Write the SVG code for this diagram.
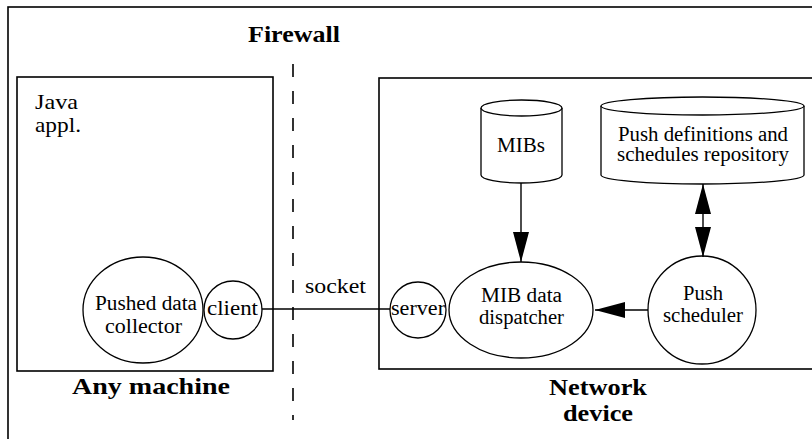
<svg xmlns="http://www.w3.org/2000/svg" width="812" height="439" viewBox="0 0 812 439">
<style>
.box{fill:none;stroke:#000;stroke-width:1.6}
.shape{fill:#fff;stroke:#000;stroke-width:1.3}
text{font-family:'Liberation Serif','Times New Roman',Times,serif;fill:#000}
.t{font-size:20px}
.l{font-size:22px}
.b{font-size:24px;font-weight:bold}
.m{text-anchor:middle}
.conn{stroke:#000;stroke-width:1.4;fill:none}
</style>
<defs>
<marker id="ah" viewBox="0 0 30 16" refX="30" refY="8" markerWidth="30" markerHeight="16" markerUnits="userSpaceOnUse" orient="auto-start-reverse">
<path d="M0,0 L30,8 L0,16 z" fill="#000"/>
</marker>
</defs>
<rect width="812" height="439" fill="#fff"/>
<g id="frame">
<rect class="box" x="8" y="7" width="830" height="460"/>
</g>
<g id="firewall">
<text class="b m" x="294" y="42" textLength="92" lengthAdjust="spacingAndGlyphs">Firewall</text>
<line x1="293" y1="64" x2="293" y2="420" stroke="#000" stroke-width="1.6" stroke-dasharray="13 14"/>
</g>
<g id="any-machine">
<rect class="box" x="17" y="77" width="256" height="294"/>
<text class="l" x="35" y="109" textLength="43" lengthAdjust="spacingAndGlyphs">Java</text>
<text class="l" x="35" y="132" textLength="46" lengthAdjust="spacingAndGlyphs">appl.</text>
<text class="b m" x="151" y="394" textLength="158" lengthAdjust="spacingAndGlyphs">Any machine</text>
</g>
<g id="collector">
<ellipse class="shape" cx="143" cy="310" rx="60" ry="53"/>
<text class="t m" x="146" y="310" textLength="102" lengthAdjust="spacingAndGlyphs">Pushed data</text>
<text class="t m" x="143.5" y="333" textLength="77" lengthAdjust="spacingAndGlyphs">collector</text>
</g>
<g id="client">
<circle class="shape" cx="233" cy="310" r="29"/>
<text class="t m" x="232.5" y="315" textLength="51" lengthAdjust="spacingAndGlyphs">client</text>
</g>
<g id="network-device">
<rect class="box" x="379" y="78" width="460" height="291"/>
<text class="b m" x="598" y="395" textLength="98" lengthAdjust="spacingAndGlyphs">Network</text>
<text class="b m" x="598" y="421" textLength="70" lengthAdjust="spacingAndGlyphs">device</text>
</g>
<g id="server">
<circle class="shape" cx="418" cy="310" r="28"/>
<text class="t m" x="418" y="315" textLength="54" lengthAdjust="spacingAndGlyphs">server</text>
</g>
<g id="dispatcher">
<ellipse class="shape" cx="521" cy="310" rx="72" ry="48"/>
<text class="t m" x="521.5" y="302" textLength="81" lengthAdjust="spacingAndGlyphs">MIB data</text>
<text class="t m" x="521.5" y="324" textLength="85" lengthAdjust="spacingAndGlyphs">dispatcher</text>
</g>
<g id="scheduler">
<circle class="shape" cx="702" cy="310" r="54"/>
<text class="t m" x="703" y="300" textLength="40" lengthAdjust="spacingAndGlyphs">Push</text>
<text class="t m" x="703" y="322" textLength="80" lengthAdjust="spacingAndGlyphs">scheduler</text>
</g>
<g id="mibs">
<path class="shape" d="M481,108 L481,175 A40.5,8 0 0 0 562,175 L562,108"/>
<ellipse class="shape" cx="521.5" cy="108" rx="40.5" ry="8"/>
<text class="t m" x="521" y="152" textLength="48" lengthAdjust="spacingAndGlyphs">MIBs</text>
</g>
<g id="repository">
<path class="shape" d="M601,106 L601,175 A101.5,9 0 0 0 804,175 L804,106"/>
<ellipse class="shape" cx="702.5" cy="106" rx="101.5" ry="9"/>
<text class="t m" x="703" y="141" textLength="170" lengthAdjust="spacingAndGlyphs">Push definitions and</text>
<text class="t m" x="703" y="161" textLength="172" lengthAdjust="spacingAndGlyphs">schedules repository</text>
</g>
<g id="connectors">
<text class="l" x="305" y="293" textLength="61" lengthAdjust="spacingAndGlyphs">socket</text>
<line class="conn" x1="262" y1="309" x2="390" y2="309"/>
<line class="conn" x1="521" y1="183" x2="521" y2="262" marker-end="url(#ah)"/>
<line class="conn" x1="703" y1="184" x2="703" y2="257" marker-start="url(#ah)" marker-end="url(#ah)"/>
<line class="conn" x1="648" y1="310" x2="595" y2="310" marker-end="url(#ah)"/>
</g>
</svg>
